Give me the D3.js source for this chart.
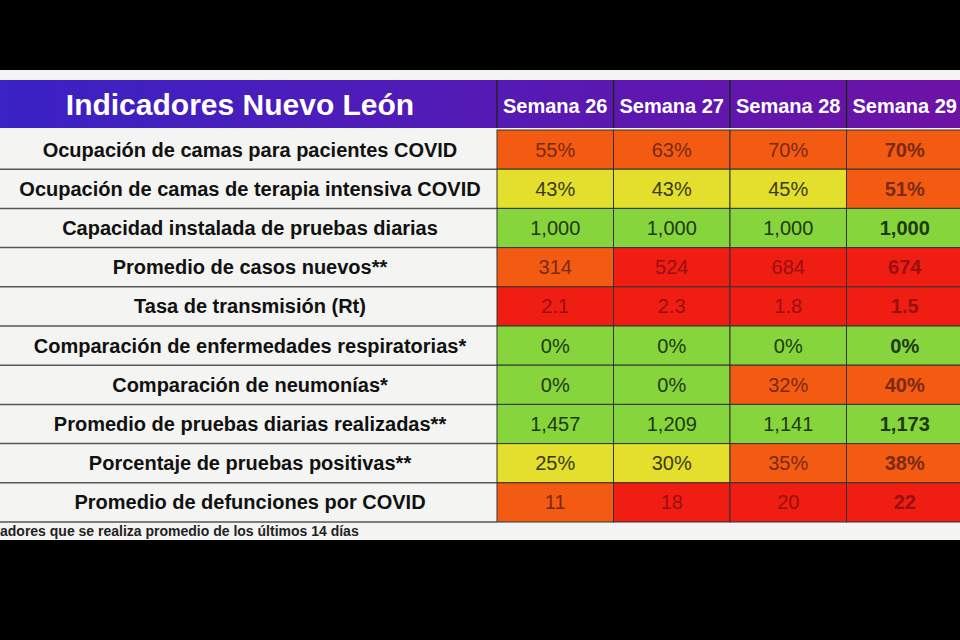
<!DOCTYPE html>
<html lang="es">
<head>
<meta charset="UTF-8">
<style>
    body { margin: 0px; background: #000; font-family: "Liberation Sans", Arial, sans-serif; }
</style>
</head>
<body>
<svg id="chart" width="960" height="640"></svg>
<script src="https://d3js.org/d3.v7.min.js"></script>
<script>
    // data
    const weeks = ["Semana 26", "Semana 27", "Semana 28", "Semana 29"];
    const indicators = [
        "Ocupación de camas para pacientes COVID",
        "Ocupación de camas de terapia intensiva COVID",
        "Capacidad instalada de pruebas diarias",
        "Promedio de casos nuevos**",
        "Tasa de transmisión (Rt)",
        "Comparación de enfermedades respiratorias*",
        "Comparación de neumonías*",
        "Promedio de pruebas diarias realizadas**",
        "Porcentaje de pruebas positivas**",
        "Promedio de defunciones por COVID"
    ];
    const values = [
        ["55%", "63%", "70%", "70%"],
        ["43%", "43%", "45%", "51%"],
        ["1,000", "1,000", "1,000", "1,000"],
        ["314", "524", "684", "674"],
        ["2.1", "2.3", "1.8", "1.5"],
        ["0%", "0%", "0%", "0%"],
        ["0%", "0%", "32%", "40%"],
        ["1,457", "1,209", "1,141", "1,173"],
        ["25%", "30%", "35%", "38%"],
        ["11", "18", "20", "22"]
    ];
    // semaforo: O orange, Y yellow, G green, R red
    const levels = [
        ["O", "O", "O", "O"],
        ["Y", "Y", "Y", "O"],
        ["G", "G", "G", "G"],
        ["O", "R", "R", "R"],
        ["R", "R", "R", "R"],
        ["G", "G", "G", "G"],
        ["G", "G", "O", "O"],
        ["G", "G", "G", "G"],
        ["Y", "Y", "O", "O"],
        ["O", "R", "R", "R"]
    ];
    const title = "Indicadores Nuevo León";
    const footnote = "adores que se realiza promedio de los últimos 14 días";

    const fill = d3.scaleOrdinal().domain(["O", "Y", "G", "R"])
        .range(["#f45b12", "#e3df2c", "#86d53c", "#ef1d12"]);
    const ink = d3.scaleOrdinal().domain(["O", "Y", "G", "R"])
        .range(["#7a2a10", "#3a3a10", "#1e3a10", "#9a1010"]);

    const narrow = "'Liberation Sans Narrow', 'Liberation Sans', sans-serif";
    const svg = d3.select("#chart");
    const topY = 80, headH = 48, labelW = 497;

    const x = d3.scaleBand().domain(weeks).range([labelW, 963]);
    const y = d3.scaleBand().domain(indicators).range([topY + headH + 2, 522]);

    // white panel
    svg.append("rect").attr("x", 0).attr("y", 70).attr("width", 960).attr("height", 470)
        .attr("fill", "#f4f4f2");

    // header
    const grad = svg.append("defs").append("linearGradient").attr("id", "hd");
    grad.append("stop").attr("offset", "0%").attr("stop-color", "#3a22c4");
    grad.append("stop").attr("offset", "100%").attr("stop-color", "#6e12a6");
    svg.append("rect").attr("x", 0).attr("y", topY).attr("width", 960).attr("height", headH)
        .attr("fill", "url(#hd)");
    svg.append("text").attr("x", 240).attr("y", topY + 35).attr("text-anchor", "middle")
        .attr("fill", "#fff").attr("font-size", 30).attr("font-weight", "bold")
        .attr("font-family", narrow).text(title);
    svg.selectAll(".wk").data(weeks).enter().append("text")
        .attr("x", d => x(d) + x.bandwidth() / 2).attr("y", topY + 33)
        .attr("text-anchor", "middle").attr("fill", "#fff").attr("font-size", 20)
        .attr("font-weight", "bold").attr("font-family", narrow)
        .text(d => d);
    svg.selectAll(".vl").data(weeks).enter().append("line")
        .attr("x1", d => x(d)).attr("x2", d => x(d)).attr("y1", topY).attr("y2", topY + headH)
        .attr("stroke", "#222").attr("stroke-width", 1.5);

    // rows
    const rows = svg.selectAll(".row").data(indicators).enter().append("g")
        .attr("transform", d => `translate(0,${y(d)})`);
    rows.append("text").attr("x", 250).attr("y", y.bandwidth() / 2 + 7)
        .attr("text-anchor", "middle").attr("font-size", 20).attr("font-weight", "bold")
        .attr("fill", "#111").attr("font-family", narrow)
        .text(d => d);

    rows.each(function (d, i) {
        const g = d3.select(this);
        weeks.forEach((w, j) => {
            g.append("rect").attr("x", x(w)).attr("y", 0)
                .attr("width", x.bandwidth()).attr("height", y.bandwidth())
                .attr("fill", fill(levels[i][j])).attr("stroke", "#333").attr("stroke-width", 1);
            g.append("text").attr("x", x(w) + x.bandwidth() / 2).attr("y", y.bandwidth() / 2 + 7)
                .attr("text-anchor", "middle").attr("font-size", 20)
                .attr("font-weight", j === 3 ? "bold" : "normal")
                .attr("font-family", narrow)
                .attr("fill", ink(levels[i][j])).text(values[i][j]);
        });
    });
    rows.append("line").attr("x1", 0).attr("x2", labelW).attr("y1", y.bandwidth()).attr("y2", y.bandwidth())
        .attr("stroke", "#555").attr("stroke-width", 1.5);

    svg.append("text").attr("x", 0).attr("y", 536).attr("font-size", 14).attr("font-weight", "bold")
        .attr("fill", "#222").attr("font-family", narrow)
        .text(footnote);
</script>
</body>
</html>
